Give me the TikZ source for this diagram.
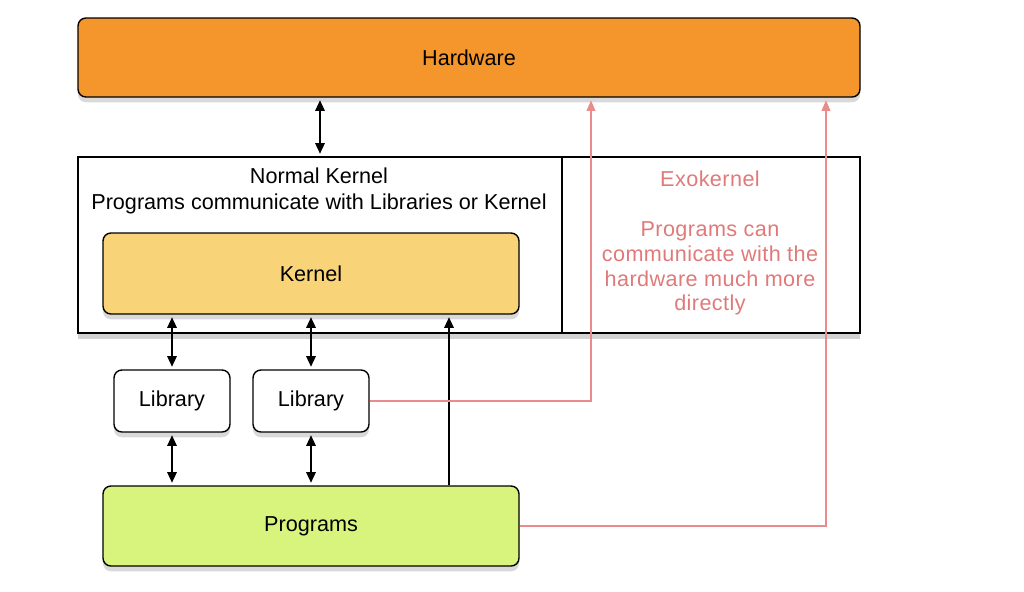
\documentclass[tikz,border=0pt]{standalone}
\usepackage{fontspec}
\setmainfont{Liberation Sans}
\usetikzlibrary{arrows.meta, shadows}
\definecolor{hwcol}{HTML}{F4962C}
\definecolor{kncol}{HTML}{F9D378}
\definecolor{prcol}{HTML}{D8F47C}
\definecolor{exocol}{HTML}{E98C8C}
\definecolor{exotxt}{HTML}{E07A7A}
\tikzstyle{layer}=[rectangle, draw, line width=0.8pt, rounded corners=4.5pt, drop shadow={shadow xshift=0pt, shadow yshift=-3pt, opacity=0.3}]
\tikzstyle{plain}=[rectangle, draw, line width=0.8pt, fill=white, drop shadow={shadow xshift=0pt, shadow yshift=-3.5pt, opacity=0.35}]
\tikzstyle{conn}=[line width=0.6pt, shorten <=1.5pt, shorten >=1.5pt]
\tikzstyle{biarrow}=[conn, {Triangle[length=6pt,width=5.5pt]}-{Triangle[length=6pt,width=5.5pt]}]
\tikzstyle{uparrow}=[conn, -{Triangle[length=6pt,width=5.5pt]}]
\tikzstyle{exoline}=[line width=0.6pt, exocol, shorten >=1.5pt, -{Triangle[length=6pt,width=5pt]}]

\begin{document}
\begin{tikzpicture}[font=\fontsize{12.3}{14.8}\selectfont]
  \useasboundingbox (0,0) rectangle (20.48,-11.82);
  \node[layer, fill=hwcol, minimum width=15.64cm, minimum height=1.58cm] (hw) at (9.38,-1.15) {Hardware};
  \node[plain, minimum width=9.68cm, minimum height=3.52cm] (normal) at (6.40,-4.90) {};
  \node[plain, minimum width=5.96cm, minimum height=3.52cm] (exo) at (14.22,-4.90) {};
  \node[align=center] (nktext) at (6.38,-3.82) {Normal Kernel\\Programs communicate with Libraries or Kernel};
  \node[align=center, text=exotxt, font=\fontsize{12.3}{14.2}\selectfont\addfontfeatures{LetterSpace=2}] (exotext) at (14.20,-4.86) {Exokernel\\[14.2pt]Programs can\\communicate with the\\hardware much more\\directly};
  \node[layer, fill=kncol, minimum width=8.32cm, minimum height=1.62cm] (kernel) at (6.22,-5.47) {Kernel};
  \node[layer, fill=white, minimum width=2.32cm, minimum height=1.24cm] (lib1) at (3.44,-8.02) {Library};
  \node[layer, fill=white, minimum width=2.32cm, minimum height=1.24cm] (lib2) at (6.22,-8.02) {Library};
  \node[layer, fill=prcol, minimum width=8.32cm, minimum height=1.60cm] (prog) at (6.22,-10.52) {Programs};
  \coordinate (direct) at (8.98,0);
  \coordinate (ex1) at (11.82,0);
  \coordinate (ex2) at (16.52,0);
  \draw[biarrow] (normal.north) -- (normal.north |- hw.south);
  \draw[biarrow] (lib1.north) -- (lib1.north |- kernel.south);
  \draw[biarrow] (lib2.north) -- (lib2.north |- kernel.south);
  \draw[biarrow] (lib1.south) -- (lib1.south |- prog.north);
  \draw[biarrow] (lib2.south) -- (lib2.south |- prog.north);
  \draw[uparrow, shorten <=0pt] (direct |- prog.north) -- (direct |- kernel.south);
  \draw[exoline] (lib2.east) -| (ex1 |- hw.south);
  \draw[exoline] (prog.east) -| (ex2 |- hw.south);
\end{tikzpicture}
\end{document}
